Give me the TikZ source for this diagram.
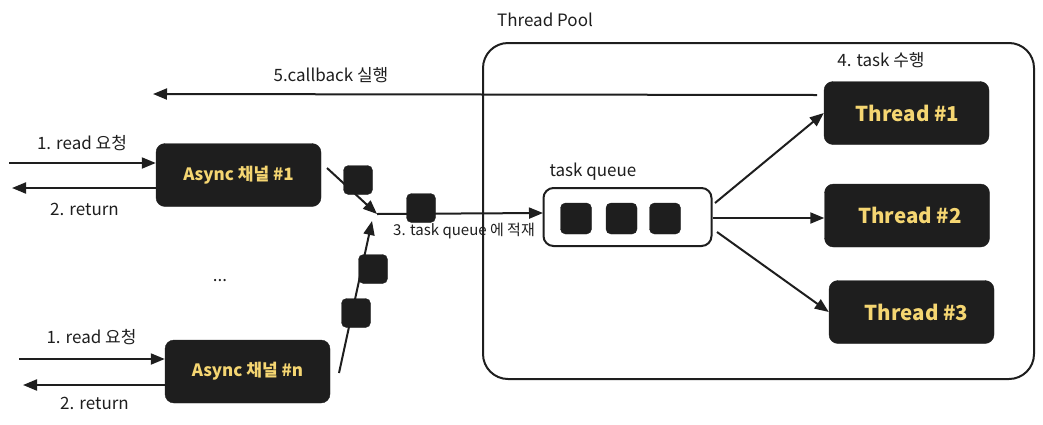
\documentclass[tikz,border=0pt]{standalone}
\usepackage{fontspec}
\setmainfont{Noto Sans CJK KR}
\usetikzlibrary{arrows.meta}
\definecolor{ink}{HTML}{1E1E1E}
\definecolor{gold}{HTML}{F5D672}
\begin{document}
\begin{tikzpicture}[x=1pt,y=-1pt,
  darkbox/.style={draw=ink, fill=ink, rounded corners=9pt, minimum width=165pt, minimum height=63pt, inner sep=0pt, text=gold, font=\fontsize{20.5}{24}\selectfont\bfseries},
  chbox/.style={darkbox, font=\fontsize{17}{20}\selectfont\bfseries},
  chip/.style={draw=ink, fill=ink, rounded corners=5pt, minimum size=29pt, inner sep=0pt},
  lbl/.style={font=\fontsize{17}{20}\selectfont, text=ink, inner sep=0pt},
  small/.style={font=\fontsize{15}{18}\selectfont, text=ink, inner sep=0pt},
  arr/.style={draw=ink, line width=2pt, -{Triangle[length=14pt,width=11pt]}},
]
\useasboundingbox (0,0) rectangle (1043,424);

% labels
\node[lbl] (pooltitle) at (545,20) {Thread Pool};
\node[lbl] (step4) at (881,60) {4. task 수행};
\node[lbl] (step5) at (331,75) {5.callback 실행};
\node[lbl] (read1) at (82,143) {1. read 요청};
\node[lbl] (ret1) at (84.5,209) {2. return};
\node[lbl] (readn) at (91.5,337) {1. read 요청};
\node[lbl] (retn) at (94.5,403) {2. return};
\node[lbl] (dots) at (220,281) {...};
\node[small] (step3) at (464,231) {3. task queue 에 적재};
\node[lbl] (qlabel) at (593,172) {task queue};

% thread pool frame
\draw[ink, line width=2pt, rounded corners=25pt] (483,43) rectangle (1034,379);

% threads
\node[darkbox] (t1) at (906.5,113) {\hspace*{2pt}Thread \#1};
\node[darkbox] (t2) at (907,215.5) {\hspace*{6pt}Thread \#2};
\node[darkbox] (t3) at (911.5,312) {\hspace*{10pt}Thread \#3};

% async channels
\node[chbox] (a1) at (238.5,175) {Async 채널 \#1};
\node[chbox] (an) at (247.5,371.5) {Async 채널 \#n};

% task queue
\node[draw=ink, line width=2pt, fill=white, rounded corners=10pt, minimum width=168pt, minimum height=58pt] (queue) at (627.5,217) {};
\node[chip, minimum size=31pt] (q1) at (576,218.5) {};
\node[chip, minimum size=31pt] (q2) at (621.5,218.5) {};
\node[chip, minimum size=31pt] (q3) at (665,218.5) {};

% coordinates
\coordinate (j) at (377,214);
\coordinate (jn) at (372,221);
\coordinate (a1o) at (327,168);
\coordinate (ano) at (339,373);
\coordinate (qin) at (543,213);
\coordinate (qo1) at (715,203);
\coordinate (qo2) at (713,218);
\coordinate (qo3) at (717,232);
\coordinate (cbs) at (817,95);
\coordinate (cbe) at (153,94);
\coordinate (in1) at (9,163);
\coordinate (out1) at (12,188);
\coordinate (inn) at (19,359);
\coordinate (outn) at (23,385);

% connectors
\draw[arr] (a1o) -- (j);
\draw[arr] (ano) -- (jn);
\draw[arr] (j) -- (qin);
\draw[arr] (qo1) -- (t1.west);
\draw[arr] (qo2) -- (t2.west |- qo2);
\draw[arr] (qo3) -- (t3.west);
\draw[arr] (cbs) -- (cbe);
\draw[arr] (in1) -- (a1.west |- in1);
\draw[arr] (a1.west |- out1) -- (out1);
\draw[arr] (inn) -- (an.west |- inn);
\draw[arr] (an.west |- outn) -- (outn);

% tasks in transit
\node[chip] (c1) at (358,180) {};
\node[chip] (c2) at (421,208) {};
\node[chip] (c3) at (373,269) {};
\node[chip] (c4) at (356,313) {};
\end{tikzpicture}
\end{document}
